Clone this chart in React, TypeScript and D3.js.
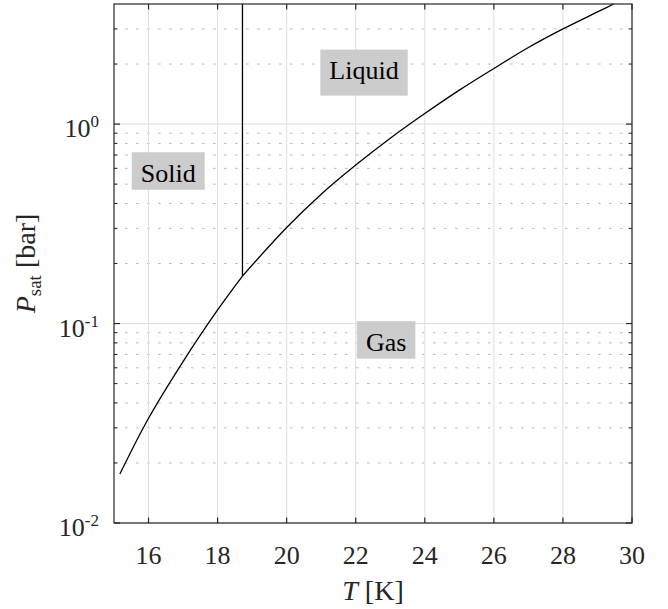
import React, { useEffect, useRef } from 'react';
import * as d3 from 'd3';

// sublimation branch (solid-gas)
const T_SOLID = [15.17, 16, 17, 18, 18.5, 18.72];
const P_SOLID = [0.0176, 0.0335, 0.0645, 0.117, 0.154, 0.173];

// vaporisation branch (liquid-gas)
const T_LIQUID = [18.72, 20, 21, 22, 23, 24, 25, 26, 27, 28, 29, 29.47];
const P_LIQUID = [0.173, 0.303, 0.445, 0.623, 0.85, 1.13, 1.48, 1.9, 2.42, 3.0, 3.65, 4.0];

// melting line (solid-liquid), vertical at the triple point
const T_MELT = [18.72, 18.72];
const P_MELT = [0.173, 4.0];

const X_TICKS = [16, 18, 20, 22, 24, 26, 28, 30];
const Y_DECADES = [-2, -1, 0];

const REGION_NAMES = ['Solid', 'Liquid', 'Gas'];
const REGION_T = [16.57, 22.24, 22.88];
const REGION_P = [0.514, 1.68, 0.0731];

const W = 668;
const H = 609;
const FONT = "'Liberation Serif', 'Times New Roman', 'DejaVu Serif', serif";

const App: React.FC = () => {
  const ref = useRef<SVGSVGElement>(null);

  useEffect(() => {
    if (!ref.current) return;
    const root = d3.select(ref.current);
    root.selectAll('*').remove();

    const margin = { top: 4, right: 36, bottom: 86, left: 114 };
    const width = W - margin.left - margin.right;
    const height = H - margin.top - margin.bottom;

    const x = d3.scaleLinear().domain([15, 30]).range([0, width]);
    const y = d3.scaleLog().domain([0.01, 4]).range([height, 0]);

    const svg = root.append('g')
      .attr('transform', `translate(${margin.left},${margin.top})`)
      .style('font-family', FONT);

    svg.append('rect').attr('width', width).attr('height', height).attr('fill', '#fff');

    // minor y grid (dotted)
    const minors: number[] = [];
    Y_DECADES.forEach(e => {
      for (let m = 2; m <= 9; m++) {
        const v = m * Math.pow(10, e);
        if (v < 3.99) minors.push(v);
      }
    });
    svg.selectAll('line.minor')
      .data(minors)
      .enter()
      .append('line')
      .attr('x1', 0)
      .attr('x2', width)
      .attr('y1', d => y(d))
      .attr('y2', d => y(d))
      .attr('stroke', '#bdbdbd')
      .attr('stroke-width', 1)
      .attr('stroke-dasharray', '2.7 8.3');

    // major grids
    svg.selectAll('line.gx')
      .data(X_TICKS)
      .enter()
      .append('line')
      .attr('x1', d => x(d))
      .attr('x2', d => x(d))
      .attr('y1', 0)
      .attr('y2', height)
      .attr('stroke', '#dedede')
      .attr('stroke-width', 1);
    svg.selectAll('line.gy')
      .data(Y_DECADES)
      .enter()
      .append('line')
      .attr('x1', 0)
      .attr('x2', width)
      .attr('y1', d => y(Math.pow(10, d)))
      .attr('y2', d => y(Math.pow(10, d)))
      .attr('stroke', '#dedede')
      .attr('stroke-width', 1);

    // phase boundaries
    const line = d3.line<[number, number]>()
      .x(d => x(d[0]))
      .y(d => y(d[1]))
      .curve(d3.curveCatmullRom.alpha(0.5));
    const solid = T_SOLID.map((t, i) => [t, P_SOLID[i]] as [number, number]);
    const liquid = T_LIQUID.map((t, i) => [t, P_LIQUID[i]] as [number, number]);
    const melt = T_MELT.map((t, i) => [t, P_MELT[i]] as [number, number]);
    [solid, liquid, melt].forEach(pts => {
      svg.append('path')
        .attr('d', line(pts))
        .attr('fill', 'none')
        .attr('stroke', '#000')
        .attr('stroke-width', 1.3);
    });

    // region labels with grey background
    REGION_NAMES.forEach((name, i) => {
      const g = svg.append('g');
      const bx = x(REGION_T[i]);
      const by = y(REGION_P[i]);
      const rect = g.append('rect').attr('fill', '#cccccc');
      const txt = g.append('text')
        .attr('x', bx)
        .attr('y', by)
        .attr('text-anchor', 'middle')
        .attr('font-size', 26)
        .attr('fill', '#000')
        .text(name);
      const w = (txt.node() as SVGTextElement).getBBox().width;
      const desc = /[gjpqy]/.test(name) ? 8.5 : 0;
      rect.attr('x', bx - w / 2 - 9)
        .attr('y', by - 29.5)
        .attr('width', w + 18)
        .attr('height', 37.5 + desc);
    });

    // axes box
    const axisColor = '#262626';
    svg.append('rect')
      .attr('width', width)
      .attr('height', height)
      .attr('fill', 'none')
      .attr('stroke', axisColor)
      .attr('stroke-width', 1.2);

    // x ticks, bottom and top, inward
    X_TICKS.forEach(t => {
      svg.append('line').attr('x1', x(t)).attr('x2', x(t)).attr('y1', height).attr('y2', height - 5.5)
        .attr('stroke', axisColor).attr('stroke-width', 1.2);
      svg.append('line').attr('x1', x(t)).attr('x2', x(t)).attr('y1', 0).attr('y2', 5.5)
        .attr('stroke', axisColor).attr('stroke-width', 1.2);
    });
    // y ticks, left and right
    Y_DECADES.forEach(e => {
      const yy = y(Math.pow(10, e));
      svg.append('line').attr('x1', 0).attr('x2', 6).attr('y1', yy).attr('y2', yy)
        .attr('stroke', axisColor).attr('stroke-width', 1.2);
      svg.append('line').attr('x1', width).attr('x2', width - 6).attr('y1', yy).attr('y2', yy)
        .attr('stroke', axisColor).attr('stroke-width', 1.2);
    });
    minors.forEach(v => {
      const yy = y(v);
      svg.append('line').attr('x1', 0).attr('x2', 3.5).attr('y1', yy).attr('y2', yy)
        .attr('stroke', axisColor).attr('stroke-width', 1);
      svg.append('line').attr('x1', width).attr('x2', width - 3.5).attr('y1', yy).attr('y2', yy)
        .attr('stroke', axisColor).attr('stroke-width', 1);
    });

    // x tick labels
    svg.selectAll('text.xt')
      .data(X_TICKS)
      .enter()
      .append('text')
      .attr('x', d => x(d))
      .attr('y', height + 41)
      .attr('text-anchor', 'middle')
      .attr('font-size', 26)
      .attr('fill', '#262626')
      .text(d => String(d));

    // y tick labels 10^e
    Y_DECADES.forEach(e => {
      const t = svg.append('text')
        .attr('x', -15)
        .attr('y', y(Math.pow(10, e)) + 13)
        .attr('text-anchor', 'end')
        .attr('font-size', 26)
        .attr('fill', '#262626');
      t.append('tspan').text('10');
      t.append('tspan').attr('dy', -10).attr('font-size', 17).text(String(e));
    });

    // axis titles
    const xl = svg.append('text')
      .attr('x', width / 2)
      .attr('y', height + 77)
      .attr('text-anchor', 'middle')
      .attr('font-size', 28)
      .attr('fill', '#262626');
    xl.append('tspan').attr('font-style', 'italic').text('T');
    xl.append('tspan').text(' [K]');

    const yl = svg.append('text')
      .attr('transform', `translate(${35 - margin.left},${height / 2}) rotate(-90)`)
      .attr('text-anchor', 'middle')
      .attr('font-size', 28)
      .attr('fill', '#262626');
    yl.append('tspan').attr('font-style', 'italic').text('P');
    yl.append('tspan').attr('font-size', 19).attr('dy', 6).text('sat');
    yl.append('tspan').attr('dy', -6).text(' [bar]');
  }, []);

  return (
    <svg
      ref={ref}
      width={W}
      height={H}
      style={{ position: 'absolute', left: 0, top: 0, background: '#fff' }}
    />
  );
};

export default App;
